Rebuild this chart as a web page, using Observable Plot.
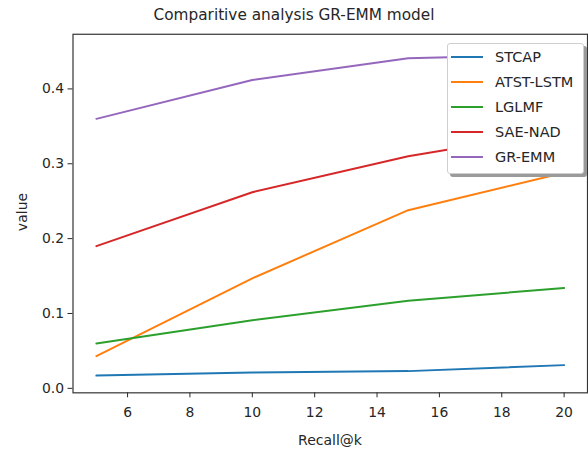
<!DOCTYPE html>
<html><head><meta charset="utf-8">
<script src="https://cdn.jsdelivr.net/npm/d3@7"></script>
<script src="https://cdn.jsdelivr.net/npm/@observablehq/plot@0.6"></script>
<style>
html,body{margin:0;padding:0;background:#fff;}
#wrap{position:relative;width:588px;height:453px;overflow:hidden;font-family:"DejaVu Sans",sans-serif;color:#262626;}
#title{position:absolute;top:6px;left:94px;width:400px;text-align:center;font-size:15.3px;line-height:19px;white-space:nowrap;}
#xlabel{position:absolute;top:432px;left:230px;width:200px;text-align:center;font-size:14px;line-height:17px;}
#ylabel{position:absolute;left:22px;top:212px;font-size:14px;line-height:17px;transform:translate(-50%,-50%) rotate(-90deg);white-space:nowrap;}
#legend{position:absolute;left:447px;top:43px;width:135px;height:129px;background:#fff;border:1px solid #cfcfcf;border-radius:3px;box-shadow:3px 3px 0 #9a9a9a;font-size:14.5px;}
.sw{position:absolute;left:3px;width:32px;height:2px;}
.lb{position:absolute;left:47px;line-height:18px;white-space:nowrap;}
#chart{position:absolute;left:0;top:0;}
</style></head>
<body>
<div id="wrap">
  <div id="chart"></div>
  <div id="title">Comparitive analysis GR-EMM model</div>
  <div id="xlabel">Recall@k</div>
  <div id="ylabel">value</div>
  <div id="legend"></div>
</div>
<script>
const kValues = [5, 10, 15, 20];
const seriesNames = ["STCAP", "ATST-LSTM", "LGLMF", "SAE-NAD", "GR-EMM"];
const STCAP = [0.017, 0.021, 0.023, 0.031];
const ATST_LSTM = [0.043, 0.147, 0.238, 0.288];
const LGLMF = [0.060, 0.091, 0.117, 0.134];
const SAE_NAD = [0.190, 0.262, 0.310, 0.345];
const GR_EMM = [0.360, 0.412, 0.441, 0.446];
const colors = ["#1f77b4", "#ff7f0e", "#2ca02c", "#d62728", "#9467bd"];
const yTicks = [0.0, 0.1, 0.2, 0.3, 0.4];
const xTicks = [6, 8, 10, 12, 14, 16, 18, 20];

const seriesValues = [STCAP, ATST_LSTM, LGLMF, SAE_NAD, GR_EMM];
const data = seriesNames.flatMap((name, i) =>
  kValues.map((k, j) => ({series: name, k, value: seriesValues[i][j]})));

const chart = Plot.plot({
  width: 592,
  height: 453,
  marginLeft: 73,
  marginRight: 1,
  marginTop: 34,
  marginBottom: 58,
  style: {fontFamily: "DejaVu Sans, sans-serif", fontSize: "14px", color: "#262626", background: "#fff", overflow: "visible"},
  x: {domain: [4.25, 20.75], ticks: xTicks, tickFormat: d => String(d), tickSize: 5, tickPadding: 9, label: null},
  y: {domain: [-0.006, 0.473], ticks: yTicks, tickFormat: d => d.toFixed(1), tickSize: 5, tickPadding: 4, label: null},
  color: {domain: seriesNames, range: colors},
  marks: [
    Plot.frame({stroke: "#333", strokeWidth: 1.2}),
    Plot.lineY(data, {x: "k", y: "value", stroke: "series", strokeWidth: 2})
  ]
});
document.getElementById("chart").appendChild(chart);

const legend = document.getElementById("legend");
seriesNames.forEach((name, i) => {
  const sw = document.createElement("div");
  sw.className = "sw";
  sw.style.top = (12 + i * 25) + "px";
  sw.style.background = colors[i];
  legend.appendChild(sw);
  const lb = document.createElement("div");
  lb.className = "lb";
  lb.style.top = (4 + i * 25) + "px";
  lb.textContent = name;
  legend.appendChild(lb);
});
</script>
</body></html>
